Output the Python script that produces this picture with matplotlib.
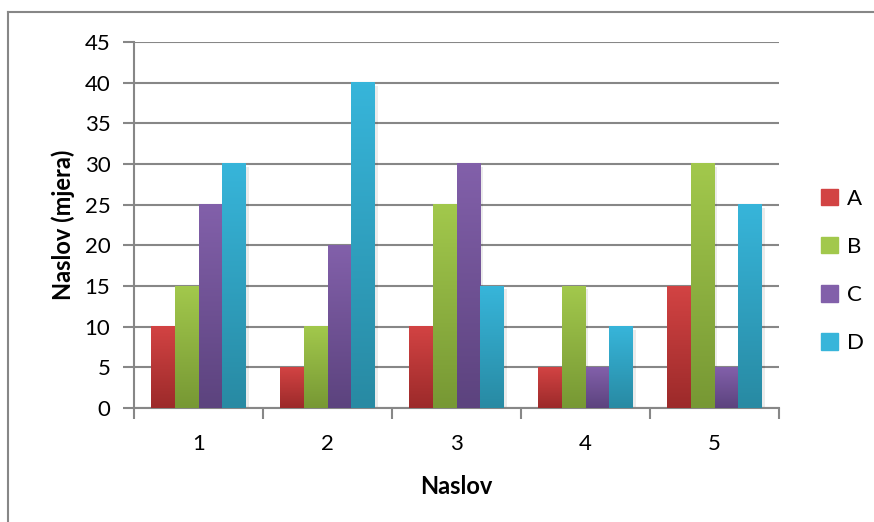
import numpy as np
import matplotlib.pyplot as plt
from matplotlib.colors import LinearSegmentedColormap
from matplotlib.patches import Rectangle
from matplotlib.lines import Line2D

# podaci
kategorije = ['1', '2', '3', '4', '5']
serije = ['A', 'B', 'C', 'D']
A = [10, 5, 10, 5, 15]
B = [15, 10, 25, 15, 30]
C = [25, 20, 30, 5, 5]
D = [30, 40, 15, 10, 25]
vrijednosti = [A, B, C, D]
# boje (vrh, dno) za gradijent
boje = [('#d24343', '#9c2a2a'),
        ('#a2c84c', '#779834'),
        ('#8260aa', '#5c437e'),
        ('#37b5da', '#288aa3')]

plt.rcParams['font.family'] = ['Lato', 'DejaVu Sans']

fig = plt.figure(figsize=(8.74, 5.22), dpi=100)
ax = fig.add_axes([134/874, 1-408/522, (779-134)/874, (408-42)/522])

sirina = 0.184
x = np.arange(len(kategorije))
for i, (serija, vals) in enumerate(zip(serije, vrijednosti)):
    cmap = LinearSegmentedColormap.from_list(serija, [boje[i][1], boje[i][0]])
    for xi, v in zip(x, vals):
        x0 = xi - 2*sirina + i*sirina
        # sjena
        ax.add_patch(Rectangle((x0 + 0.02, -0.35), sirina, v, color='#000000', alpha=0.08, lw=0, zorder=2))
        grad = np.linspace(0, 1, 100).reshape(-1, 1)
        ax.imshow(grad, extent=(x0, x0 + sirina, 0, v), origin='lower', cmap=cmap,
                  aspect='auto', zorder=3, interpolation='bilinear')
    ax.add_patch(Rectangle((0, 0), 0, 0, color=boje[i][0], label=serija))

ax.set_xlim(-0.5, 4.5)
ax.set_ylim(0, 45)
ax.set_yticks(np.arange(0, 46, 5))
ax.set_xticks(x)
ax.set_xticklabels(kategorije)
ax.set_xticks(np.arange(-0.5, 5, 1), minor=True)
ax.grid(axis='y', color='#878787', lw=1.5, zorder=1)
for s in ['top', 'right']:
    ax.spines[s].set_visible(False)
for s in ['left', 'bottom']:
    ax.spines[s].set_color('#878787')
    ax.spines[s].set_linewidth(1.5)
ax.tick_params(axis='y', length=8, width=1.5, color='#878787', labelsize=16, pad=9)
ax.tick_params(axis='x', which='major', length=0, labelsize=16, pad=19)
ax.tick_params(axis='x', which='minor', length=8, width=1.5, color='#878787')
ax.set_xlabel('Naslov', fontsize=17, fontweight='bold', labelpad=15)
ax.set_ylabel('Naslov (mjera)', fontsize=17, fontweight='bold', labelpad=7)

ax.legend(loc='center left', bbox_to_anchor=(821/874, 1-271/522), bbox_transform=fig.transFigure,
          frameon=False, fontsize=16, borderpad=0, borderaxespad=0,
          handlelength=0.75, handleheight=0.75, labelspacing=1.27, handletextpad=0.4)

# okvir: samo gore i lijevo
fig.add_artist(Line2D([8/874, 1], [1-12/522, 1-12/522], transform=fig.transFigure, color='#878787', lw=1.5))
fig.add_artist(Line2D([8/874, 8/874], [0, 1-12/522], transform=fig.transFigure, color='#878787', lw=1.5))

fig.savefig('out.png', dpi=100)
